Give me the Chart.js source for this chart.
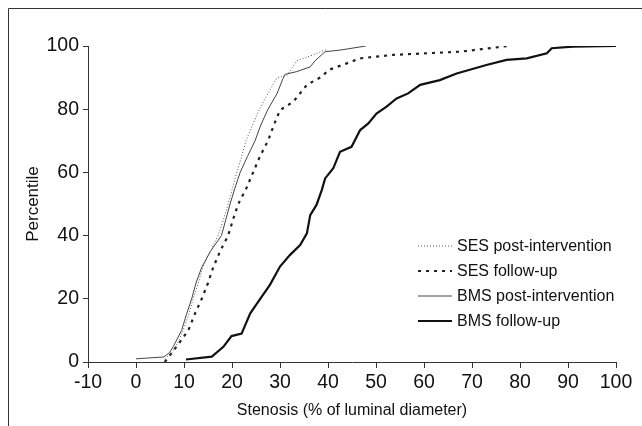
<!DOCTYPE html>
<html>
<head>
<meta charset="utf-8">
<script src="https://cdn.jsdelivr.net/npm/chart.js@4/dist/chart.umd.min.js"></script>
<style>
  html, body { margin: 0; padding: 0; background: #fff; }
  #wrap { position: relative; width: 642px; height: 426px; }
</style>
</head>
<body>
<div id="wrap"><canvas id="stenosisChart" width="642" height="426"></canvas></div>
<script>
// Cumulative distribution of stenosis (% of luminal diameter)
const seriesLabels = ["SES post-intervention", "SES follow-up", "BMS post-intervention", "BMS follow-up"];

const sesPostX = [6, 7.5, 9, 9.8, 11, 11.9, 13, 13.9, 15.5, 17.1, 18.2, 19.2, 20.1, 21, 22, 22.9, 24.3, 25.7, 27.5, 29.4, 31.4, 33.5, 36.9, 39, 40];
const sesPostY = [1, 3, 7, 10, 15, 20, 25, 30, 35, 40, 45, 50, 55, 60, 65, 70, 75, 80, 85, 90, 90.6, 95.3, 97.2, 98.5, 99];

const sesFuX = [6, 7, 8, 9, 10.9, 12.2, 13.7, 15, 16.1, 17.5, 19.2, 20.2, 21.3, 23, 24.4, 25.8, 27.5, 28.6, 30, 32.8, 35.6, 38.7, 40.1, 43.9, 46.7, 53.6, 60.6, 67.5, 72, 77.5];
const sesFuY = [0, 2, 4, 6, 10, 15, 20, 25, 30, 35, 40, 45, 50, 55, 60, 65, 70, 74.5, 79.7, 82.4, 87.7, 90.3, 92.4, 94.5, 96.1, 97.2, 97.7, 98.2, 99, 100];

const bmsPostX = [0, 5.8, 7, 7.8, 9.5, 10.5, 11.6, 12.5, 13.7, 15.5, 17.8, 18.7, 19.6, 20.6, 21.7, 23.2, 24.8, 26, 27.5, 29.4, 30.6, 31, 33.5, 36.3, 37.3, 39.4, 42.5, 47.9];
const bmsPostY = [1, 1.6, 3, 5, 10, 15, 20, 25, 30, 35, 40, 45, 50, 55, 60, 65, 70, 75, 80, 85, 89.6, 91, 91.9, 93.4, 95.3, 98.2, 98.7, 100];

const bmsFuX = [10.4, 15.8, 18.2, 19.9, 22, 23.8, 26.2, 27.9, 30, 32.1, 34.2, 35.6, 36.3, 37.6, 38.7, 39.4, 41.1, 42.5, 44.9, 46.7, 48.4, 50.1, 52.2, 54.3, 56.7, 59.2, 63.3, 66.8, 73, 77.2, 81.4, 85.6, 86.6, 91, 100];
const bmsFuY = [0.8, 1.7, 4.8, 8.2, 9, 15.4, 20.7, 24.4, 30.2, 33.9, 37, 40.7, 46.5, 49.7, 54.4, 58.1, 61.3, 66.5, 68.1, 73.4, 75.5, 78.6, 80.8, 83.4, 85, 87.7, 89.2, 91.3, 94, 95.6, 96.1, 97.7, 99.3, 99.8, 100];

const xTicks = [-10, 0, 10, 20, 30, 40, 50, 60, 70, 80, 90, 100];
const yTicks = [0, 20, 40, 60, 80, 100];

const FONT = "'Liberation Sans', Arial, sans-serif";

function toPoints(xs, ys) {
  return xs.map((x, i) => ({ x, y: ys[i] }));
}

// frame lines of the figure + a small legend drawn inside the plot
const figureExtras = {
  id: "figureExtras",
  beforeDraw(chart) {
    const { ctx } = chart;
    ctx.save();
    ctx.strokeStyle = "#333";
    ctx.lineWidth = 1;
    ctx.beginPath();
    ctx.moveTo(8.5, 426);
    ctx.lineTo(8.5, 8.5);
    ctx.lineTo(642, 8.5);
    ctx.stroke();
    ctx.restore();
  },
  afterDraw(chart) {
    const { ctx, chartArea } = chart;
    const x0 = chartArea.right - 198;
    const y0 = chartArea.top + 200;
    ctx.save();
    ctx.font = "16px " + FONT;
    ctx.textBaseline = "middle";
    chart.data.datasets.forEach((ds, i) => {
      const y = y0 + i * 25;
      ctx.strokeStyle = ds.borderColor;
      ctx.lineWidth = ds.borderWidth;
      ctx.setLineDash(ds.borderDash || []);
      ctx.beginPath();
      ctx.moveTo(x0, y);
      ctx.lineTo(x0 + 34, y);
      ctx.stroke();
      ctx.setLineDash([]);
      ctx.fillStyle = "#111";
      ctx.fillText(ds.label, x0 + 39, y + 1);
    });
    ctx.restore();
  },
};

const styles = [
  { color: "#555", width: 1, dash: [1, 2] },
  { color: "#222", width: 2.2, dash: [3, 5] },
  { color: "#444", width: 1, dash: [] },
  { color: "#111", width: 2.2, dash: [] },
];
const allPoints = [
  toPoints(sesPostX, sesPostY),
  toPoints(sesFuX, sesFuY),
  toPoints(bmsPostX, bmsPostY),
  toPoints(bmsFuX, bmsFuY),
];

const ctx = document.getElementById("stenosisChart").getContext("2d");
new Chart(ctx, {
  type: "line",
  data: {
    datasets: allPoints.map((pts, i) => ({
      label: seriesLabels[i],
      data: pts,
      borderColor: styles[i].color,
      borderWidth: styles[i].width,
      borderDash: styles[i].dash,
      pointRadius: 0,
      tension: 0,
      fill: false,
    })),
  },
  options: {
    responsive: false,
    animation: false,
    layout: { padding: { left: 12, right: 26, top: 46, bottom: 3 } },
    plugins: { legend: { display: false }, tooltip: { enabled: false } },
    scales: {
      x: {
        type: "linear",
        min: -10,
        max: 100,
        afterBuildTicks: (s) => { s.ticks = xTicks.map((v) => ({ value: v })); },
        afterFit: (s) => { s.height = 61; },
        grid: { drawOnChartArea: false, tickLength: 6, tickColor: "#333" },
        border: { color: "#333", width: 1 },
        ticks: { color: "#111", font: { family: FONT, size: 19.5 }, padding: 3, maxRotation: 0 },
        title: {
          display: true,
          text: "Stenosis (% of luminal diameter)",
          color: "#111",
          font: { family: FONT, size: 16 },
          padding: { top: 4, bottom: 3 },
        },
      },
      y: {
        min: 0,
        max: 100,
        afterBuildTicks: (s) => { s.ticks = yTicks.map((v) => ({ value: v })); },
        afterFit: (s) => { s.width = 76; },
        grid: { drawOnChartArea: false, tickLength: 5, tickColor: "#333" },
        border: { color: "#333", width: 1 },
        ticks: { color: "#111", font: { family: FONT, size: 19.5 }, padding: 4 },
        title: {
          display: true,
          text: "Percentile",
          color: "#111",
          font: { family: FONT, size: 17 },
          padding: { top: 11, bottom: 4 },
        },
      },
    },
  },
  plugins: [figureExtras],
});
</script>
</body>
</html>
